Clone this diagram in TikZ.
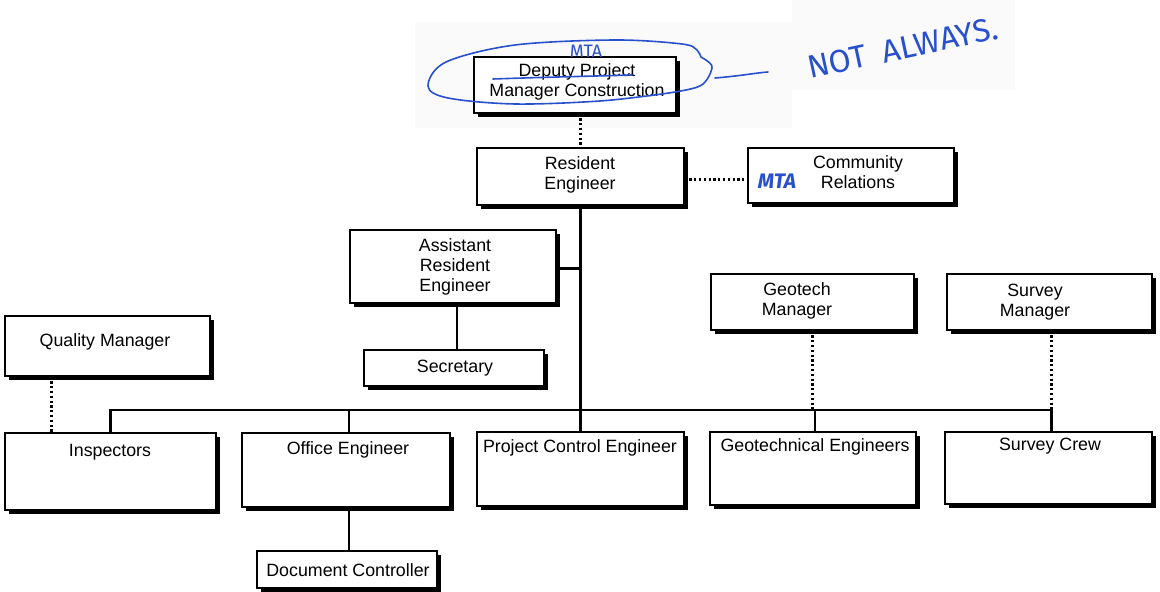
\documentclass[tikz,border=0pt]{standalone}
\usepackage{fontspec}
\setmainfont{Liberation Sans}
\newfontfamily\handfont{Fira Sans}
\usetikzlibrary{shadows,calc}
\definecolor{pen}{RGB}{40,80,205}
\definecolor{paper}{gray}{0.982}
\begin{document}
\begin{tikzpicture}[x=0.5pt,y=-0.5pt,
  orgbox/.style={draw, fill=white, line width=0.6pt, inner sep=0pt,
    drop shadow={shadow xshift=2pt, shadow yshift=-2pt, fill=black, opacity=1}},
  lbl/.style={font=\fontsize{8.9}{10}\selectfont, align=center, inner sep=0pt},
  solidlink/.style={line width=1.35pt},
  dotlink/.style={line width=1.6pt, dash pattern=on 1.1pt off 1.3pt},
  ink/.style={pen, line width=0.8pt, line cap=round, line join=round},
  hand/.style={pen, inner sep=0pt}]
\useasboundingbox (0,0) rectangle (1160,592);

% pasted scan patches behind the annotations
\fill[paper] (415,22) rectangle (792,128);
\fill[paper] (792,0) rectangle (1015,90);

% boxes: node at the centre of the given corners (px)
\newcommand{\orgnode}[5]{% name, x1, y1, x2, y2
  \node[orgbox, minimum width={(#4-#2)*0.5pt}, minimum height={(#5-#3)*0.5pt}]
    (#1) at ({(#2+#4)/2},{(#3+#5)/2}) {};}
\orgnode{dpm}{474}{57}{676}{113}
\orgnode{re}{477}{148}{684}{205}
\orgnode{cr}{748}{148}{954}{203}
\orgnode{are}{350}{230}{556}{303}
\orgnode{sec}{364}{350}{544}{386}
\orgnode{qm}{5}{316}{210}{376}
\orgnode{gm}{711}{274}{914}{330}
\orgnode{sm}{947}{274}{1152}{330}
\orgnode{ins}{5}{433}{216}{510}
\orgnode{oe}{242}{433}{450}{507}
\orgnode{pce}{477}{432}{684}{506}
\orgnode{ge}{710}{432}{916}{505}
\orgnode{sc}{945}{432}{1152}{504}
\orgnode{dc}{257}{551}{437}{588}

% titles
\node[lbl] (dpm-t) at (577,82) {Deputy Project\\Manager Construction};
\node[lbl] (re-t) at (580,175) {Resident\\Engineer};
\node[lbl] (cr-t) at (858,172) {Community\\Relations};
\node[lbl] (are-t) at (455,267) {Assistant\\Resident\\Engineer};
\node[lbl] (sec-t) at (455,368) {Secretary};
\node[lbl] (qm-t) at (105,342) {Quality Manager};
\node[lbl] (gm-t) at (797,301) {Geotech\\Manager};
\node[lbl] (sm-t) at (1035,302) {Survey\\Manager};
\node[lbl] (ins-t) at (110,452) {Inspectors};
\node[lbl] (oe-t) at (348,450) {Office Engineer};
\node[lbl] (pce-t) at (580,448) {Project Control Engineer};
\node[lbl] (ge-t) at (815,447) {Geotechnical Engineers};
\node[lbl] (sc-t) at (1050,446) {Survey Crew};
\node[lbl] (dc-t) at (348,570) {Document Controller};

% connectors
\coordinate (bus) at (0,410);
\draw[dotlink] (re.north |- dpm.south) -- (re.north);
\draw[dotlink] ([yshift=-1.5pt]re.east) -- ([yshift=-1.5pt]re.east -| cr.west);
\draw[solidlink] (re.south) -- (pce.north);
\draw[solidlink] ([yshift=-1pt]are.east) -- ([yshift=-1pt]are.east -| re.south);
\draw[solidlink] ([xshift=2pt]are.south) -- ([xshift=2pt]are.south |- sec.north);
\draw[solidlink] (ins.north) -- (ins.north |- bus) -- ([xshift=1.5pt]sc.north |- bus) -- ([xshift=1.5pt]sc.north);
\draw[solidlink] ([xshift=1.5pt]oe.north |- bus) -- ([xshift=1.5pt]oe.north);
\draw[solidlink] ([xshift=1pt]ge.north |- bus) -- ([xshift=1pt]ge.north);
\draw[solidlink] ([xshift=1.5pt]oe.south) -- ([xshift=1.5pt]oe.south |- dc.north);
\draw[dotlink] ([xshift=23.5pt]qm.south west) -- ([xshift=23.5pt]qm.south west |- ins.north);
\draw[dotlink] (gm.south) -- (gm.south |- bus);
\draw[dotlink] ([xshift=1pt]sm.south) -- ([xshift=1pt]sm.south |- bus);

% pen annotations: loop round the deputy box, strike-through and dash
\draw[ink] plot[smooth, tension=0.55] coordinates {(662,94) (600,101) (515,104) (448,98) (428,86) (446,62) (515,45) (615,40) (682,44) (697,50) (701,57) (706,60) (712,68) (700,86) (662,94)};
\draw[ink] (493,79) .. controls (550,77) and (600,76) .. (632,75);
\draw[ink] (715,78) .. controls (740,76) and (755,73) .. (768,72);
\node[hand, font=\handfont\fontsize{9}{9}\selectfont] (mta1) at (586,51) {MTA};
\node[hand, font=\handfont\itshape\bfseries\fontsize{10.5}{10}\selectfont] (mta2) at (777,181) {MTA};
\node[hand, rotate=12, font=\handfont\fontsize{16}{16}\selectfont] (note) at (903,48) {NOT\hspace{0.5em}ALWAYS.};
\end{tikzpicture}
\end{document}
